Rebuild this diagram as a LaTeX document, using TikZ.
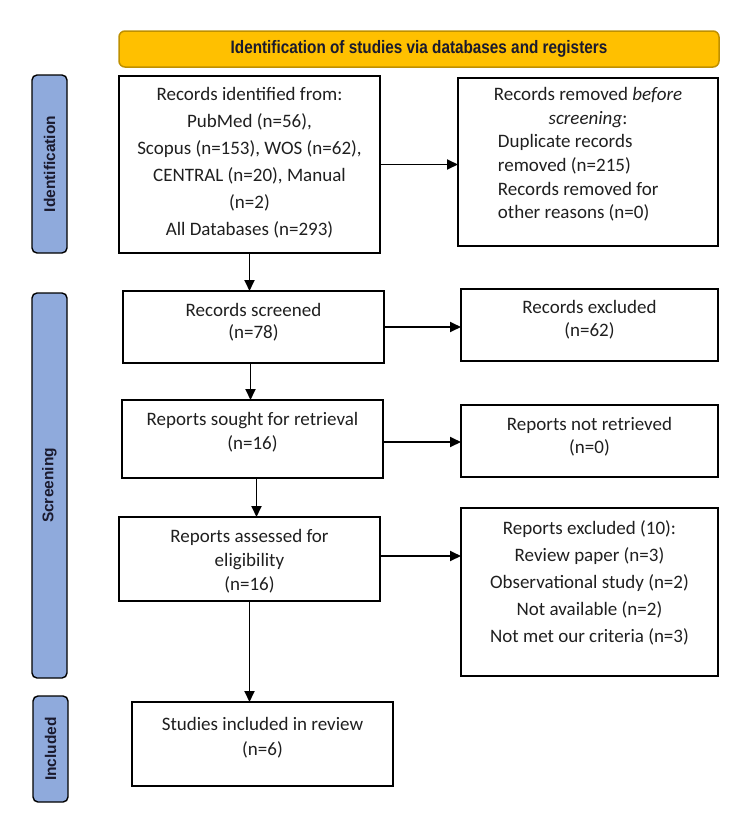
\documentclass[tikz,border=0pt]{standalone}
\usepackage{graphicx}
\usepackage{fontspec}
\setmainfont{Carlito}
\newfontfamily\hdrfont{Liberation Sans}
\usetikzlibrary{arrows.meta}
\definecolor{hdrfill}{HTML}{FFC000}
\definecolor{hdrdraw}{HTML}{BF9000}
\definecolor{barfill}{HTML}{8FAADC}
\definecolor{lbltext}{HTML}{1A1A2E}
\begin{document}
\begin{tikzpicture}[x=1pt,y=-1pt,
  box/.style={draw, line width=2.8pt, anchor=north west, inner sep=0pt, outer sep=0pt},
  txt/.style={align=center, inner sep=0pt, text=black!88},
  arr/.style={line width=1.8pt, -{Triangle[length=11pt,width=10pt]}},
  sidebar/.style={draw, line width=1.4pt, fill=barfill, rounded corners=5pt, anchor=north west, inner sep=0pt, outer sep=0pt, minimum width=35pt},
  barlbl/.style={rotate=90, inner sep=0pt, text=lbltext, font=\hdrfont\bfseries\fontsize{15.5}{18}\selectfont}
]
\useasboundingbox (0,0) rectangle (750,827);

% header
\node[draw=hdrdraw, fill=hdrfill, line width=1.5pt, rounded corners=6pt, anchor=north west,
      minimum width=600pt, minimum height=36pt, inner sep=0pt, outer sep=0pt,
      font=\hdrfont\bfseries\fontsize{18}{20}\selectfont, text=lbltext] (hdr) at (119,31)
  {\scalebox{0.85}[1]{Identification of studies via databases and registers}};

% side bars
\node[sidebar, minimum height=178pt] (idbar) at (32,75) {};
\node[sidebar, minimum height=385pt] (scbar) at (32,293) {};
\node[sidebar, minimum height=106pt] (inbar) at (33,696) {};
\node[barlbl] (idlbl) at (idbar.center) {Identification};
\node[barlbl] (sclbl) at (scbar.center) {Screening};
\node[barlbl] (inlbl) at (inbar.center) {Included};

% boxes
\node[box, minimum width=261pt, minimum height=177pt] (b1) at (119,76) {};
\node[box, minimum width=260pt, minimum height=168pt] (b2) at (458,78) {};
\node[box, minimum width=261pt, minimum height=72pt] (b3) at (123,291) {};
\node[box, minimum width=257pt, minimum height=72pt] (b4) at (461,289) {};
\node[box, minimum width=261pt, minimum height=78pt] (b5) at (122,400) {};
\node[box, minimum width=257pt, minimum height=72pt] (b6) at (461,405) {};
\node[box, minimum width=261pt, minimum height=84pt] (b7) at (119,517) {};
\node[box, minimum width=257pt, minimum height=168pt] (b8) at (461,508) {};
\node[box, minimum width=261pt, minimum height=84pt] (b9) at (132,702) {};

% texts
\node[txt, font=\fontsize{19}{27}\selectfont] (t1) at (b1.center |- 0,162.5)
  {Records identified from:\\PubMed (n=56),\\Scopus (n=153), WOS (n=62),\\CENTRAL (n=20), Manual\\(n=2)\\All Databases (n=293)};
\node[inner sep=0pt, text=black!88, font=\fontsize{19}{23.6}\selectfont] (t2) at (b2.center |- 0,155)
  {\begin{tabular}{@{}l@{}}
   \multicolumn{1}{@{}c@{}}{Records removed \textit{before}}\\
   \multicolumn{1}{@{}c@{}}{\textit{screening}:}\\
   \hspace{4pt}Duplicate records\\
   \hspace{4pt}removed (n=215)\\
   \hspace{4pt}Records removed for\\
   \hspace{4pt}other reasons (n=0)
   \end{tabular}};
\node[txt, font=\fontsize{19}{22}\selectfont] (t3) at (b3.center |- 0,322) {Records screened\\(n=78)};
\node[txt, font=\fontsize{19}{23}\selectfont] (t4) at (b4.center |- 0,319.5) {Records excluded\\(n=62)};
\node[txt, font=\fontsize{19}{24}\selectfont] (t5) at (b5.center |- 0,432) {Reports sought for retrieval\\(n=16)};
\node[txt, font=\fontsize{19}{23}\selectfont] (t6) at (b6.center |- 0,436.5) {Reports not retrieved\\(n=0)};
\node[txt, font=\fontsize{19}{24}\selectfont] (t7) at (b7.center |- 0,561) {Reports assessed for\\eligibility\\(n=16)};
\node[txt, font=\fontsize{19}{27}\selectfont] (t8) at (b8.center |- 0,582.5)
  {Reports excluded (10):\\Review paper (n=3)\\Observational study (n=2)\\Not available (n=2)\\Not met our criteria (n=3)};
\node[txt, font=\fontsize{19}{25}\selectfont] (t9) at (b9.center |- 0,737.5) {Studies included in review\\(n=6)};

% connectors
\draw[arr] (b1.south) -- (b1.south |- b3.north);
\draw[arr] (b1.east) -- (b1.east -| b2.west);
\draw[arr] ([xshift=-3pt]b3.south) -- ([xshift=-3pt]b3.south |- b5.north);
\draw[arr] (b3.east) -- (b3.east -| b4.west);
\draw[arr] ([xshift=4pt]b5.south) -- ([xshift=4pt]b5.south |- b7.north);
\draw[arr] ([yshift=-3pt]b5.east) -- ([yshift=-3pt]b5.east -| b6.west);
\draw[arr] (b7.south) -- (b7.south |- b9.north);
\draw[arr] ([yshift=3pt]b7.east) -- ([yshift=3pt]b7.east -| b8.west);
\end{tikzpicture}
\end{document}
